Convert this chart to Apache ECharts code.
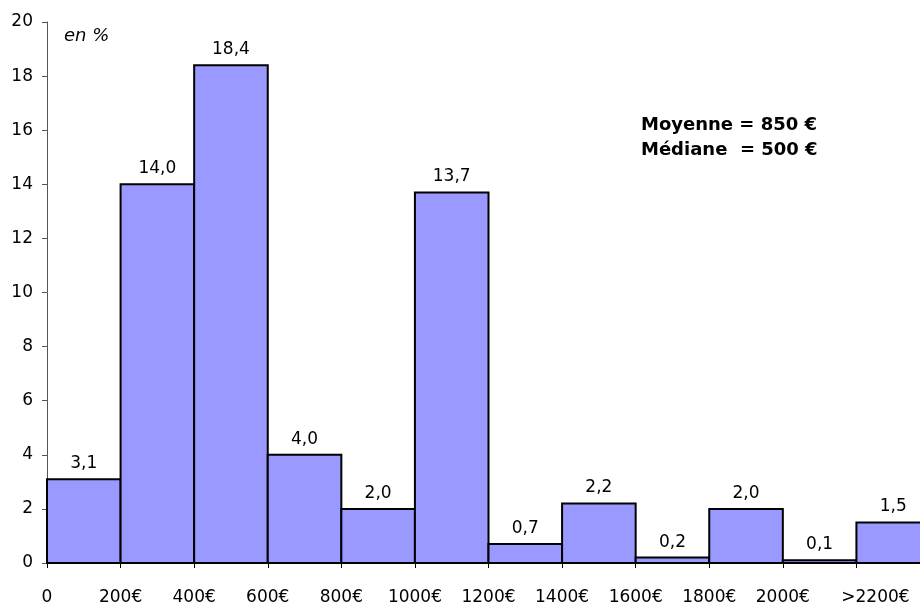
<!DOCTYPE html>
<html><head><meta charset="utf-8">
<script src="https://cdn.jsdelivr.net/npm/echarts@6/dist/echarts.min.js"></script>
<style>html,body{margin:0;padding:0;background:#fff}#c{width:920px;height:604px}</style>
</head><body><div id="c"></div>
<script>
const categories = ['0-200','200-400','400-600','600-800','800-1000','1000-1200','1200-1400','1400-1600','1600-1800','1800-2000','2000-2200','>2200'];
const values = [3.1, 14.0, 18.4, 4.0, 2.0, 13.7, 0.7, 2.2, 0.2, 2.0, 0.1, 1.5];
const tickLabels = ['0','200€','400€','600€','800€','1000€','1200€','1400€','1600€','1800€','2000€','>2200€'];
const yTicks = [0,2,4,6,8,10,12,14,16,18,20];

const font = 'DejaVu Sans, Verdana, sans-serif';
const chart = echarts.init(document.getElementById('c'));
chart.setOption({
  animation: false,
  grid: {left: 47, width: 883, top: 22, bottom: 41, outerBoundsMode: 'none', containLabel: false},
  xAxis: {type: 'value', min: 0, max: categories.length, interval: 1,
     axisLine: {show: true, onZero: false, lineStyle: {color: '#000', width: 1}},
     axisTick: {show: true, length: 5, lineStyle: {color: '#000'}},
     splitLine: {show: false},
     axisLabel: {margin: 26, color: '#000', fontFamily: font, fontSize: 17,
       formatter: function (v) {
         const i = Math.round(v);
         if (i >= tickLabels.length) return '';
         if (i === tickLabels.length - 1) return '{last|' + tickLabels[i] + '}';
         return tickLabels[i];
       },
       rich: {last: {padding: [0, 0, 0, 38], fontFamily: font, fontSize: 17, color: '#000'}}
     }},
  yAxis: {type: 'value', min: yTicks[0], max: yTicks[yTicks.length-1], interval: 2,
    axisLine: {show: true, lineStyle: {color: '#555'}},
    axisTick: {show: true, length: 5, lineStyle: {color: '#555'}},
    splitLine: {show: false},
    axisLabel: {margin: 14, color: '#000', fontFamily: font, fontSize: 17}},
  series: [{
    type: 'custom',
    data: values.map((v, i) => [i, v]),
    renderItem: function (params, api) {
      const i = api.value(0), v = api.value(1);
      const p0 = api.coord([i, 0]);
      const p1 = api.coord([i + 1, v]);
      return {
        type: 'group',
        children: [
          {type: 'rect', shape: {x: p0[0], y: p1[1], width: p1[0] - p0[0], height: p0[1] - p1[1]},
           style: {fill: '#9999ff', stroke: '#000', lineWidth: 2}},
          {type: 'text', x: (p0[0] + p1[0]) / 2, y: p1[1] - 7,
           style: {text: v.toFixed(1).replace('.', ','), font: '17px ' + font, fill: '#000',
                   align: 'center', verticalAlign: 'bottom'}}
        ]
      };
    }
  }],
  graphic: [
    {type: 'text', left: 64, top: 27, style: {text: 'en %', font: 'italic 18px ' + font, fill: '#000'}},
    {type: 'text', left: 641, top: 113, style: {text: 'Moyenne = 850 €\nMédiane  = 500 €', font: 'bold 18px ' + font, fill: '#000', lineHeight: 25}}
  ]
});
</script></body></html>
